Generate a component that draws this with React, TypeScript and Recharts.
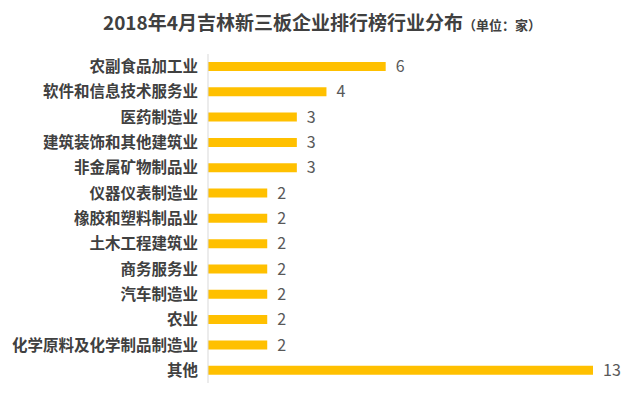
import { BarChart, Bar, XAxis, YAxis, LabelList } from "recharts";

const categories = [
  "农副食品加工业",
  "软件和信息技术服务业",
  "医药制造业",
  "建筑装饰和其他建筑业",
  "非金属矿物制品业",
  "仪器仪表制造业",
  "橡胶和塑料制品业",
  "土木工程建筑业",
  "商务服务业",
  "汽车制造业",
  "农业",
  "化学原料及化学制品制造业",
  "其他",
];
const counts = [6, 4, 3, 3, 3, 2, 2, 2, 2, 2, 2, 2, 13];

const FONT = '"Noto Sans CJK SC", "Noto Sans", sans-serif';

export default function App() {
  const data = categories.map((name, i) => ({ name, value: counts[i] }));

  return (
    <div
      style={{
        position: "absolute",
        left: 0,
        top: 0,
        width: 640,
        height: 399,
        background: "#ffffff",
        fontFamily: FONT,
      }}
    >
      <div
        style={{
          position: "absolute",
          top: 9,
          left: 0,
          width: 640,
          textAlign: "center",
          color: "#404040",
          fontWeight: 700,
          fontSize: 19,
          lineHeight: "26px",
          paddingLeft: 2,
        }}
      >
        2018年4月吉林新三板企业排行榜行业分布
        <span style={{ fontSize: 13 }}>（单位：家）</span>
      </div>
      <BarChart
        width={640}
        height={399}
        data={data}
        layout="vertical"
        margin={{ top: 54, right: 47, bottom: 16, left: 0 }}
        barCategoryGap={0}
      >
        <XAxis type="number" domain={[0, 13]} hide />
        <YAxis
          type="category"
          dataKey="name"
          width={208}
          interval={0}
          tickLine={false}
          tickMargin={4}
          axisLine={{ stroke: "#d9d9d9" }}
          tick={{ fill: "#404040", fontSize: 15.5, fontWeight: 700, fontFamily: FONT }}
        />
        <Bar dataKey="value" fill="#FFC000" barSize={9} isAnimationActive={false}>
          <LabelList
            dataKey="value"
            position="right"
            offset={10}
            fill="#595959"
            fontSize={16}
            fontFamily={FONT}
          />
        </Bar>
      </BarChart>
    </div>
  );
}
